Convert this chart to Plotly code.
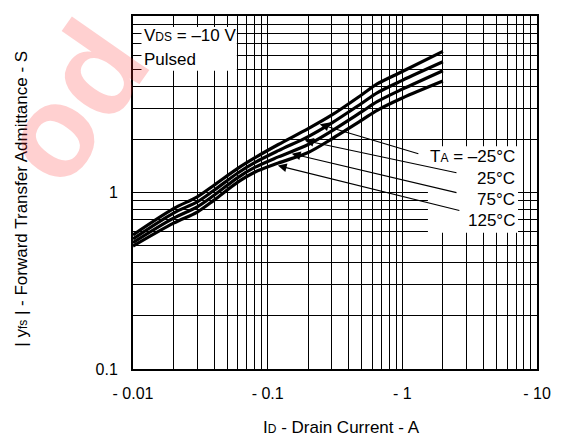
import numpy as np
import plotly.graph_objects as go

# ---- data ----
drain_current = [0.01, 0.02, 0.03, 0.04, 0.06, 0.08, 0.12, 0.2, 0.3, 0.5, 0.65, 1.0, 2.0]
yfs_m25 = [0.575, 0.81, 0.945, 1.10, 1.37, 1.57, 1.87, 2.30, 2.75, 3.58, 4.12, 4.85, 6.3]
yfs_25 = [0.546, 0.765, 0.885, 1.03, 1.29, 1.476, 1.726, 2.075, 2.48, 3.205, 3.67, 4.32, 5.5]
yfs_75 = [0.52, 0.715, 0.83, 0.965, 1.215, 1.387, 1.592, 1.87, 2.236, 2.87, 3.27, 3.85, 4.9]
yfs_125 = [0.497, 0.67, 0.775, 0.905, 1.145, 1.303, 1.469, 1.686, 2.016, 2.57, 2.92, 3.43, 4.28]
series_names = ["TA = -25°C", "25°C", "75°C", "125°C"]
x_tick_vals = [0.01, 0.1, 1, 10]
x_tick_text = ["- 0.01", "- 0.1", "- 1", "- 10"]
y_tick_vals = [0.1, 1, 10]
y_tick_text = ["0.1", "1", "10"]

FONT = "Arial, Liberation Sans, sans-serif"

fig = go.Figure()
for name, ys in zip(series_names, [yfs_m25, yfs_25, yfs_75, yfs_125]):
    fig.add_trace(go.Scatter(x=drain_current, y=ys, mode="lines", name=name,
                             line=dict(color="black", width=3.2, shape="spline", smoothing=0.9),
                             showlegend=False, hoverinfo="skip"))

minor_x = [k * 10.0 ** e for e in range(-2, 1) for k in range(2, 10)]
minor_y = [k * 10.0 ** e for e in range(-1, 1) for k in range(2, 10)]

# the page body adds an 8 px offset, so the figure is 8 px smaller
fig.update_layout(
    width=553, height=433,
    margin=dict(l=125, r=24, t=6, b=72),
    paper_bgcolor="white", plot_bgcolor="white",
    font=dict(family=FONT, size=16, color="black"),
    xaxis=dict(type="log", range=[-2, 1], tickmode="array", tickvals=x_tick_vals, ticktext=x_tick_text,
               showgrid=True, gridcolor="black", gridwidth=1, ticks="", ticklabelstandoff=9,
               showline=True, mirror=True, linecolor="black", linewidth=2, zeroline=False,
               tickfont=dict(size=16),
               minor=dict(tickmode="array", tickvals=minor_x, showgrid=True, gridcolor="black", gridwidth=1, ticks="")),
    yaxis=dict(type="log", range=[-1, 1], tickmode="array", tickvals=y_tick_vals, ticktext=y_tick_text,
               showgrid=True, gridcolor="black", gridwidth=1, ticks="", ticklabelstandoff=10,
               showline=True, mirror=True, linecolor="black", linewidth=2, zeroline=False,
               tickfont=dict(size=16),
               minor=dict(tickmode="array", tickvals=minor_y, showgrid=True, gridcolor="black", gridwidth=1, ticks="")),
)

# white boxes behind the texts (hide grid)
fig.add_shape(type="rect", xref="x domain", yref="y domain", x0=0.021, x1=0.257, y0=0.845, y1=0.969,
              fillcolor="white", line=dict(width=0), layer="above")
fig.add_shape(type="rect", xref="x domain", yref="y domain", x0=0.730, x1=0.953, y0=0.386, y1=0.631,
              fillcolor="white", line=dict(width=0), layer="above")

small = "font-size:12px"
ann = []
ann.append(dict(xref="x domain", yref="y domain", x=0.022, y=0.944, xanchor="left", yanchor="middle",
                text=f"V<span style='{small}'>DS</span> = –10 V", showarrow=False, font=dict(size=17)))
ann.append(dict(xref="x domain", yref="y domain", x=0.022, y=0.876, xanchor="left", yanchor="middle",
                text="Pulsed", showarrow=False, font=dict(size=17)))
labels = [f"T<span style='{small}'>A</span> = –25°C", "25°C", "75°C", "125°C"]
label_y = [0.603, 0.540, 0.481, 0.422]
for t, yy in zip(labels, label_y):
    ann.append(dict(xref="x domain", yref="y domain", x=0.950, y=yy, xanchor="right", yanchor="middle",
                    text=t, showarrow=False, font=dict(size=17)))

# arrows: tail near the labels, tip on the curve
tips_x = [0.244, 0.189, 0.151, 0.119]
tails = [(1.35, 1.648), (2.59, 1.288), (2.59, 0.994), (2.72, 0.787)]
for ys, tx, (ax_, ay_) in zip([yfs_m25, yfs_25, yfs_75, yfs_125], tips_x, tails):
    ty = 10 ** np.interp(np.log10(tx), np.log10(drain_current), np.log10(ys)) * 0.97
    ann.append(dict(x=np.log10(tx), y=np.log10(ty), xref="x", yref="y",
                    ax=np.log10(ax_), ay=np.log10(ay_), axref="x", ayref="y",
                    text="", showarrow=True, arrowhead=2, arrowsize=1.6, arrowwidth=1.1, arrowcolor="black"))

# axis titles
ann.append(dict(xref="x domain", yref="y domain", x=0.517, y=-0.166, xanchor="center", yanchor="middle",
                text=f"I<span style='{small}'>D</span> - Drain Current - A", showarrow=False, font=dict(size=17)))
ann.append(dict(xref="x domain", yref="y domain", x=-0.275, y=0.482, xanchor="center", yanchor="middle",
                textangle=-90, text=f"| y<span style='{small}'>fs</span> | - Forward Transfer Admittance - S",
                showarrow=False, font=dict(size=17)))
# watermark (semi-transparent red letters in the top-left corner)
ann.append(dict(xref="x domain", yref="y domain", x=-0.15, y=0.755, xanchor="center", yanchor="middle",
                textangle=-55, text="<b>od</b>", showarrow=False,
                font=dict(size=130, color="rgba(255,40,40,0.22)")))

fig.update_layout(annotations=ann)
fig.write_html("out.html")
